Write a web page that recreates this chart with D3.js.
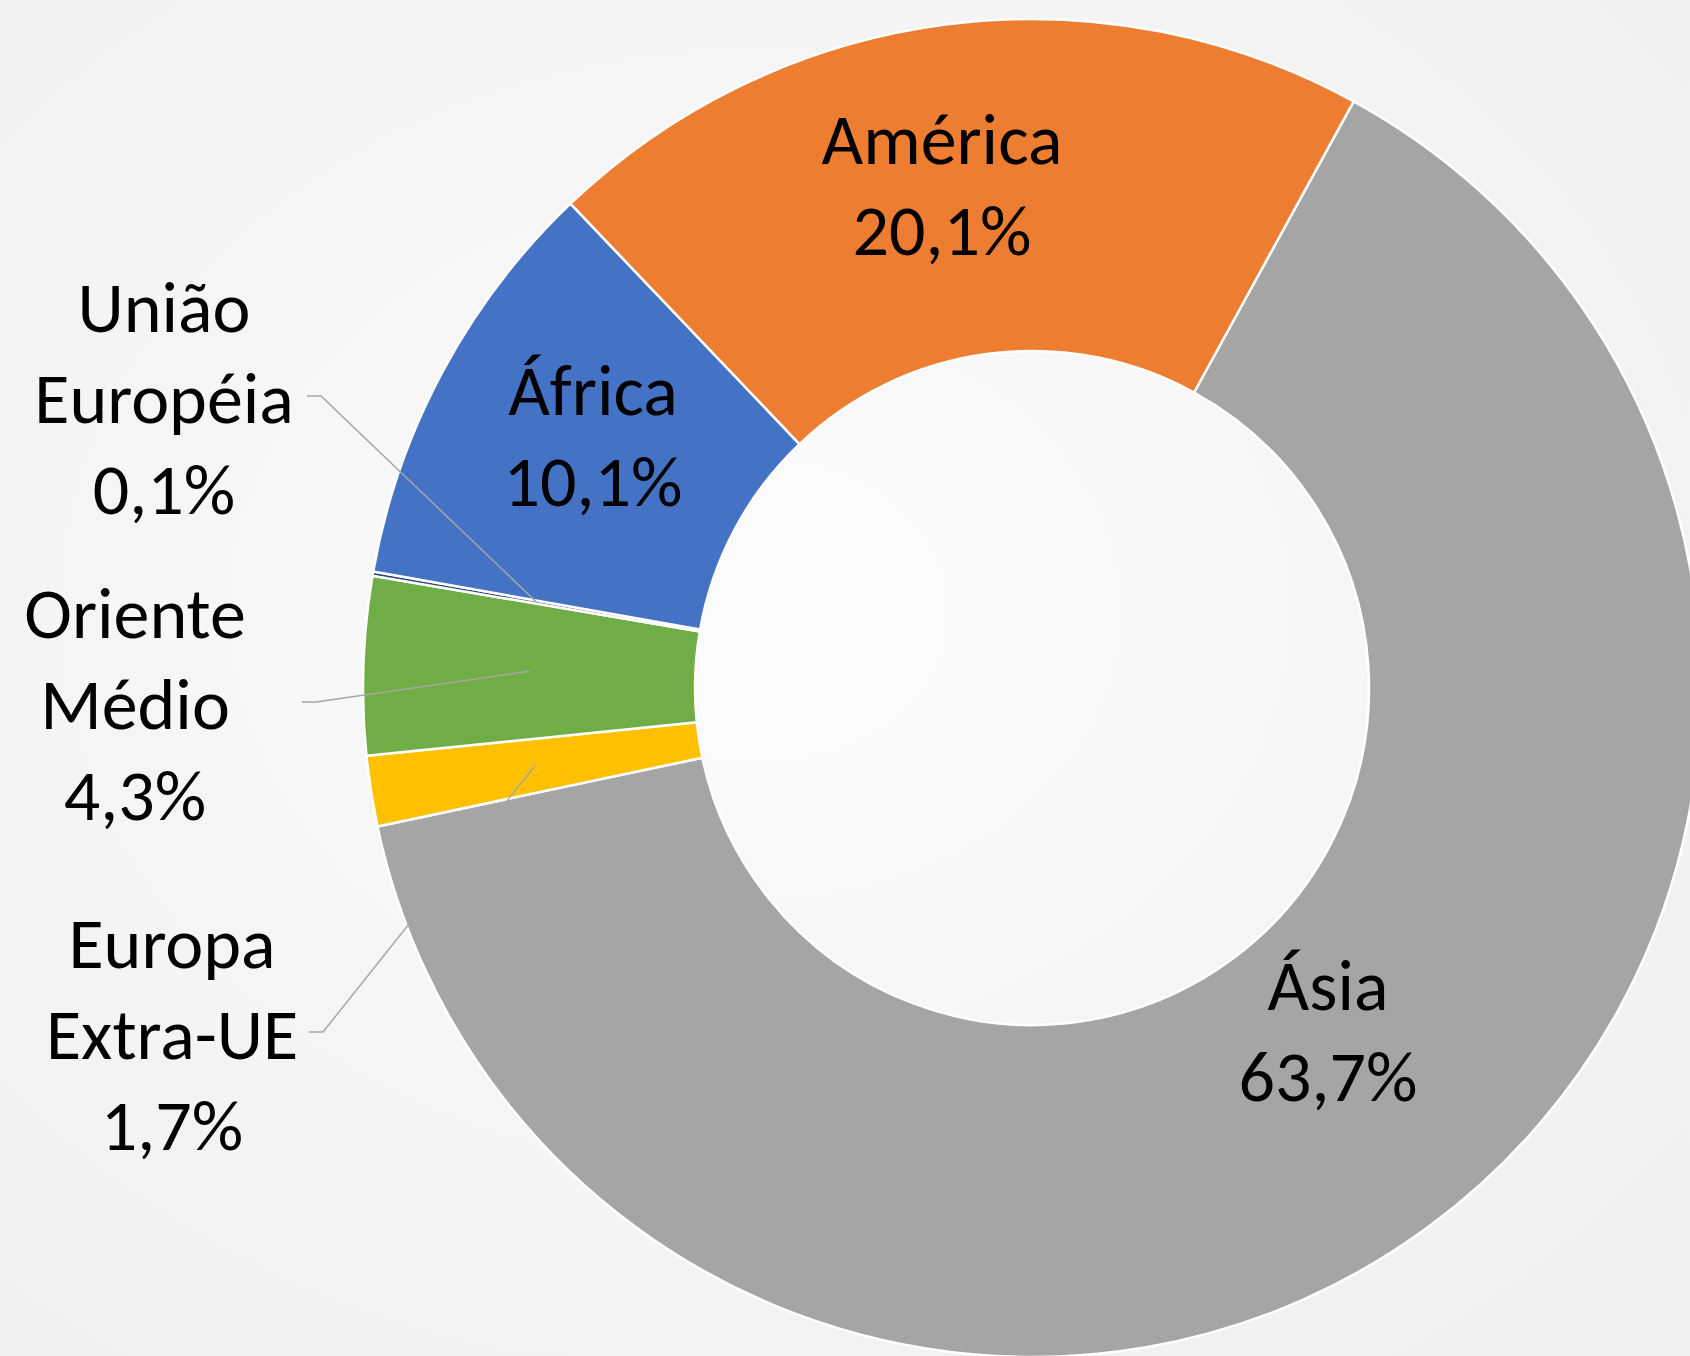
<!DOCTYPE html>
<html>
<head>
<meta charset="utf-8">
<title>Donut</title>
<script src="https://cdn.jsdelivr.net/npm/d3@7"></script>
<style>
  html, body { margin: 0; padding: 0; background: #f4f4f4; }
  svg { display: block; }
  .lbl { font-family: Carlito, Calibri, Lato, sans-serif; font-size: 72px; fill: #000; }
</style>
</head>
<body>
<div id="chart"></div>
<script>
  'use strict';

  var regions = ['Ásia', 'Europa Extra-UE', 'Oriente Médio', 'União Européia', 'África', 'América'];
  var shares = [63.7, 1.7, 4.3, 0.1, 10.1, 20.1];
  var colors = ['#a5a5a5', '#ffc000', '#70ad47', '#264478', '#4472c4', '#ed7d31'];
  // label lines as drawn in the picture (region name may wrap)
  var labelLines = [
    ['Ásia'],
    ['Europa', 'Extra-UE'],
    ['Oriente', 'Médio'],
    ['União', 'Européia'],
    ['África'],
    ['América']
  ];

  var width = 1690,
      height = 1356,
      cx = 1032,
      cy = 688,
      outerR = 669,
      innerR = 337,
      lineH = 91;

  // first baseline of each label, plus which ones sit outside with a leader
  var labelPos = [
    { x: 1328, y: 1010 },
    { x: 172, y: 968, outside: true, lx: 323 },
    { x: 135, y: 638, outside: true, lx: 316 },
    { x: 164, y: 332, outside: true, lx: 321 },
    { x: 593, y: 415 },
    { x: 942, y: 164 }
  ];

  var svg = d3.select('#chart')
    .append('svg')
    .attr('width', width)
    .attr('height', height);

  var defs = svg.append('defs');
  var grad = defs.append('radialGradient')
    .attr('id', 'bg')
    .attr('cx', '45%').attr('cy', '45%').attr('r', '75%');
  grad.append('stop').attr('offset', '0%').attr('stop-color', '#fcfcfc');
  grad.append('stop').attr('offset', '100%').attr('stop-color', '#efefef');

  svg.append('rect')
    .attr('width', width)
    .attr('height', height)
    .attr('fill', 'url(#bg)');

  var startA = 28.74 * Math.PI / 180;

  var pie = d3.pie()
    .sort(null)
    .value(function (d) { return d; })
    .startAngle(startA)
    .endAngle(startA + 2 * Math.PI);

  var arc = d3.arc()
    .innerRadius(innerR)
    .outerRadius(outerR);

  var arcs = pie(shares);

  var g = svg.append('g')
    .attr('transform', 'translate(' + cx + ',' + cy + ')');

  g.selectAll('path.slice')
    .data(arcs)
    .enter()
    .append('path')
      .attr('class', 'slice')
      .attr('d', arc)
      .attr('fill', function (d, i) { return colors[i]; })
      .attr('stroke', '#fff')
      .attr('stroke-width', 2.5)
      .attr('stroke-linejoin', 'round');

  // leader lines for the small slices
  arcs.forEach(function (d, i) {
    var p = labelPos[i], c, ly;
    if (!p.outside) { return; }
    c = arc.centroid(d);
    ly = p.y + lineH - 27;
    svg.append('polyline')
      .attr('points', [
        [p.lx - 14, ly],
        [p.lx, ly],
        [cx + c[0], cy + c[1]]
      ].join(' '))
      .attr('fill', 'none')
      .attr('stroke', '#a6a6a6')
      .attr('stroke-width', 1.5);
  });

  var fmt = function (v) { return v.toFixed(1).replace('.', ',') + '%'; };

  var labels = svg.selectAll('text.lbl')
    .data(arcs)
    .enter()
    .append('text')
      .attr('class', 'lbl')
      .attr('text-anchor', 'middle')
      .attr('x', function (d, i) { return labelPos[i].x; })
      .attr('y', function (d, i) { return labelPos[i].y; });

  labels.each(function (d, i) {
    var t = d3.select(this),
        lines = labelLines[i].concat([fmt(shares[i])]);
    lines.forEach(function (s, k) {
      t.append('tspan')
        .attr('x', labelPos[i].x)
        .attr('dy', k === 0 ? 0 : lineH)
        .text(s);
    });
  });
</script>
</body>
</html>
